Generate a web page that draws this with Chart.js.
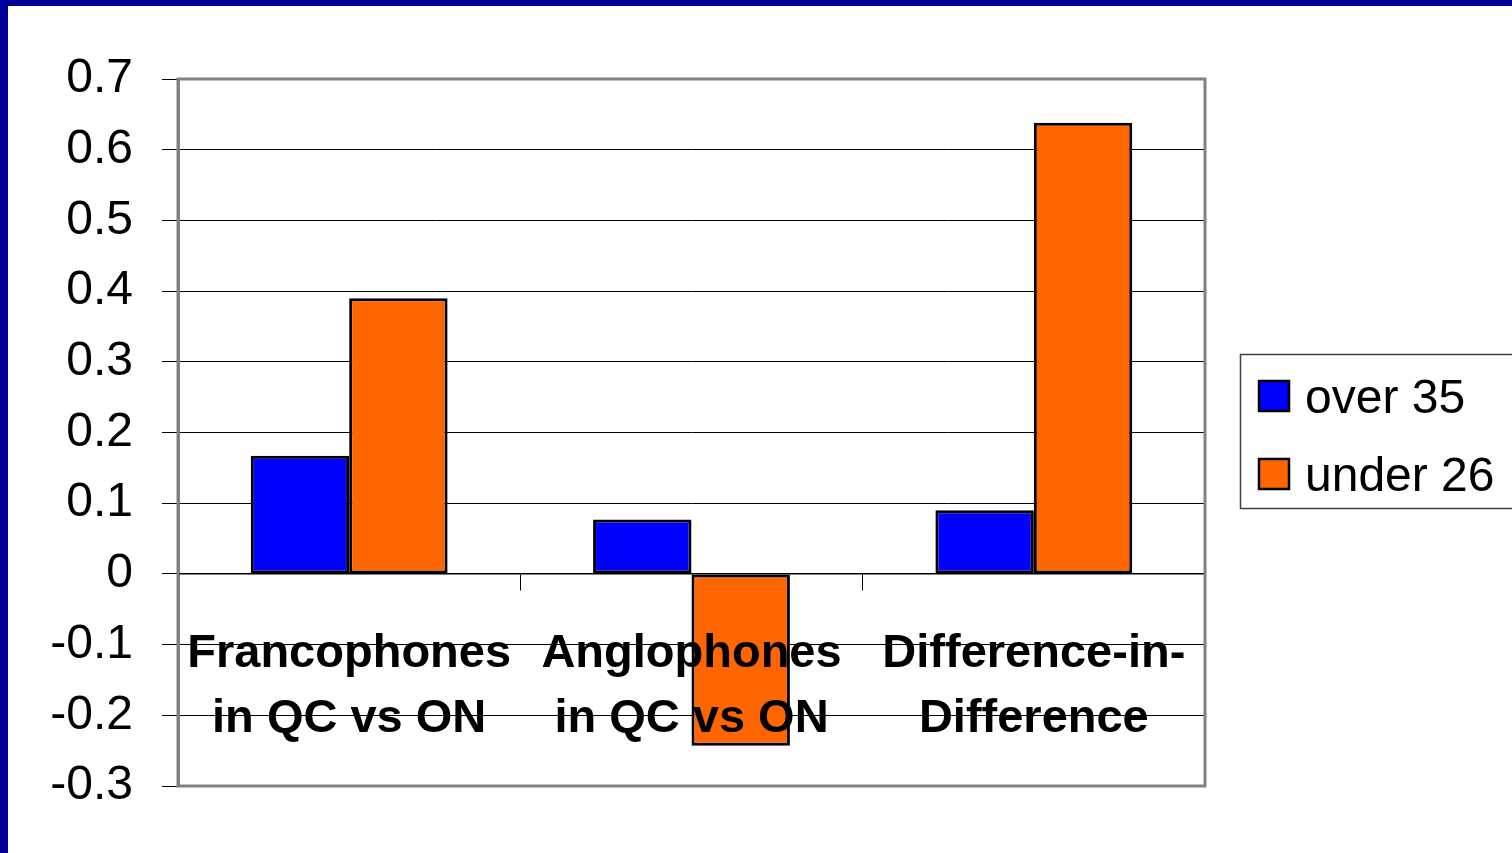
<!DOCTYPE html>
<html>
<head>
<meta charset="utf-8">
<style>
html,body{margin:0;padding:0;background:#fff;overflow:hidden;}
canvas{display:block;}
</style>
<script src="https://cdn.jsdelivr.net/npm/chart.js@4/dist/chart.umd.min.js"></script>
</head>
<body>
<canvas id="c" width="1512" height="853"></canvas>
<script>
const categories = [["Francophones", "in QC vs ON"], ["Anglophones", "in QC vs ON"], ["Difference-in-", "Difference"]];
const seriesNames = ["over 35", "under 26"];
const over35 = [0.167, 0.077, 0.090];
const under26 = [0.390, -0.243, 0.638];
const yTickValues = [-0.3, -0.2, -0.1, 0, 0.1, 0.2, 0.3, 0.4, 0.5, 0.6, 0.7];
const yTickLabels = ["-0.3", "-0.2", "-0.1", "0", "0.1", "0.2", "0.3", "0.4", "0.5", "0.6", "0.7"];

const FONT = "'Liberation Sans', Arial, sans-serif";

const framePlugin = {
  id: 'frame',
  beforeDraw(chart) {
    const ctx = chart.ctx;
    ctx.save();
    ctx.fillStyle = '#ffffff';
    ctx.fillRect(0, 0, chart.width, chart.height);
    ctx.fillStyle = '#000099';
    ctx.fillRect(0, 0, 8, chart.height);
    ctx.fillRect(0, 0, chart.width, 6);
    ctx.restore();
  },
  afterDraw(chart) {
    const ctx = chart.ctx;
    const a = chart.chartArea;
    ctx.save();
    ctx.strokeStyle = '#808080';
    ctx.lineWidth = 3;
    ctx.strokeRect(a.left, a.top, a.right - a.left, a.bottom - a.top);
    // legend
    const lx = 1240, ly = 354, lw = 290, lh = 154;
    ctx.lineWidth = 1.5;
    ctx.strokeStyle = '#404040';
    ctx.strokeRect(lx + 0.5, ly + 0.5, lw, lh);
    const items = chart.data.datasets;
    const rows = [381, 459];
    ctx.font = "48px " + FONT;
    ctx.textBaseline = 'alphabetic';
    ctx.textAlign = 'left';
    items.forEach((ds, i) => {
      const y = rows[i];
      ctx.fillStyle = ds.backgroundColor;
      ctx.fillRect(1259, y, 30, 30);
      ctx.lineWidth = 2.5;
      ctx.strokeStyle = '#000';
      ctx.strokeRect(1259, y, 30, 30);
      ctx.fillStyle = '#000';
      ctx.fillText(ds.label, 1305, y + 32);
    });
    ctx.restore();
  }
};

new Chart(document.getElementById('c'), {
  type: 'bar',
  data: {
    labels: categories,
    datasets: [
      { label: seriesNames[0], data: over35, backgroundColor: '#0000FF', borderColor: '#000000', borderWidth: 3, borderSkipped: false },
      { label: seriesNames[1], data: under26, backgroundColor: '#FF6600', borderColor: '#000000', borderWidth: 3, borderSkipped: false }
    ]
  },
  options: {
    responsive: false,
    animation: false,
    devicePixelRatio: 1,
    layout: { padding: { top: 79, right: 307, bottom: 67, left: 0 } },
    plugins: { legend: { display: false }, tooltip: { enabled: false } },
    datasets: { bar: { barPercentage: 1.0, categoryPercentage: 0.575 } },
    scales: {
      x: {
        position: { y: 0 },
        offset: true,
        grid: { display: true, drawOnChartArea: false, drawTicks: true, tickLength: 16, color: '#000000', lineWidth: 1, offset: true, z: 1 },
        border: { display: true, color: '#000000', width: 1.5, z: 1 },
        ticks: {
          z: 1,
          color: '#000000',
          padding: 32,
          maxRotation: 0,
          autoSkip: false,
          font: { family: FONT, size: 47, weight: 'bold', lineHeight: 1.38 }
        }
      },
      y: {
        min: -0.3,
        max: 0.7,
        afterBuildTicks(scale) { scale.ticks = yTickValues.map(v => ({ value: v })); },
        afterFit(scale) { scale.width = 178; },
        grid: { color: '#000000', lineWidth: 1, drawTicks: true, tickLength: 16 },
        border: { display: true, color: '#808080', width: 3 },
        ticks: {
          color: '#000000',
          padding: 29,
          font: { family: FONT, size: 48 },
          callback(value) {
            const i = yTickValues.findIndex(v => Math.abs(v - value) < 1e-9);
            return i >= 0 ? yTickLabels[i] : '';
          }
        }
      }
    }
  },
  plugins: [framePlugin]
});
</script>
</body>
</html>
